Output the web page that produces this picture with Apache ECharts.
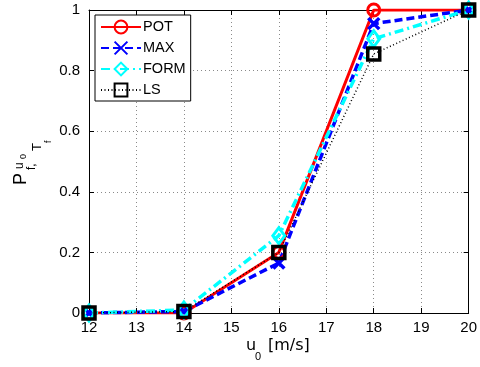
<!DOCTYPE html>
<html>
<head>
<meta charset="utf-8">
<script src="https://cdn.jsdelivr.net/npm/echarts@6/dist/echarts.min.js"></script>
<style>
  html, body { margin: 0; padding: 0; background: #fff; }
  #chart { width: 480px; height: 367px; }
</style>
</head>
<body>
<div id="chart"></div>
<script>
// wind speed u0 [m/s]
const uValues = [12, 14, 16, 18, 20];
const potValues = [0, 0, 0.2, 1, 1];
const maxValues = [0, 0.005, 0.165, 0.955, 1];
const formValues = [0, 0.01, 0.255, 0.905, 1];
const lsValues = [0, 0.005, 0.2, 0.855, 1];
const xTicks = [12, 13, 14, 15, 16, 17, 18, 19, 20];
const yTicks = [0, 0.2, 0.4, 0.6, 0.8, 1];

const FONT = '"Liberation Sans", Arial, sans-serif';
const FONT2 = '"DejaVu Sans", sans-serif';
const toPairs = (ys) => uValues.map((u, i) => [u, ys[i]]);
const xPath = 'path://M0,0L10,10M10,0L0,10';

const chart = echarts.init(document.getElementById('chart'));

const gridLine = { show: true, lineStyle: { color: '#8a8a8a', type: [1, 3], width: 1 } };
const boxLine = { show: true, onZero: false, lineStyle: { color: '#000', width: 1 } };
const inTick = { show: true, inside: true, length: 5, lineStyle: { color: '#000' } };

const option = {
  animation: false,
  grid: { left: 89, right: 10, top: 10, bottom: 54 },
  xAxis: [
    {
      type: 'value', min: 12, max: 20, interval: 1,
      axisLine: boxLine, axisTick: inTick, splitLine: gridLine,
      axisLabel: {
        color: '#000', fontFamily: FONT, fontSize: 15, margin: 7,
        formatter: (v) => (xTicks.includes(v) ? String(v) : '')
      }
    },
    {
      type: 'value', position: 'top', min: 12, max: 20, interval: 1,
      axisLine: boxLine, axisTick: inTick, splitLine: { show: false },
      axisLabel: { show: false }
    }
  ],
  yAxis: [
    {
      type: 'value', min: 0, max: 1, interval: 0.2,
      axisLine: boxLine, axisTick: inTick, splitLine: gridLine,
      axisLabel: {
        color: '#000', fontFamily: FONT, fontSize: 15, margin: 9,
        formatter: (v) => {
          const t = yTicks.find((y) => Math.abs(y - v) < 1e-6);
          return t === undefined ? '' : String(t);
        }
      }
    },
    {
      type: 'value', position: 'right', min: 0, max: 1, interval: 0.2,
      axisLine: boxLine, axisTick: inTick, splitLine: { show: false },
      axisLabel: { show: false }
    }
  ],
  legend: {
    orient: 'vertical',
    left: 95, top: 15,
    itemWidth: 40, itemHeight: 16, itemGap: 5,
    padding: [4, 5, 3, 5],
    borderColor: '#000', borderWidth: 1,
    backgroundColor: '#fff',
    textStyle: { color: '#000', fontFamily: FONT, fontSize: 14.5, lineHeight: 16, padding: [0, 0, 0, -3] },
    data: ['POT', 'MAX', 'FORM', 'LS']
  },
  series: [
    {
      name: 'POT', type: 'line', data: toPairs(potValues),
      symbol: 'circle', symbolSize: 12,
      lineStyle: { color: '#ff0000', width: 3, type: 'solid' },
      itemStyle: { color: 'rgba(0,0,0,0)', borderColor: '#ff0000', borderWidth: 3 }
    },
    {
      name: 'MAX', type: 'line', data: toPairs(maxValues),
      symbol: xPath, symbolSize: 11,
      lineStyle: { color: '#0000ff', width: 3.5, type: [8, 4] },
      itemStyle: { color: 'rgba(0,0,0,0)', borderColor: '#0000ff', borderWidth: 3.5 }
    },
    {
      name: 'FORM', type: 'line', data: toPairs(formValues),
      symbol: 'diamond', symbolSize: [12, 16],
      lineStyle: { color: '#00ffff', width: 3.5, type: [9, 4, 2, 4] },
      itemStyle: { color: 'rgba(0,0,0,0)', borderColor: '#00ffff', borderWidth: 3 }
    },
    {
      name: 'LS', type: 'line', data: toPairs(lsValues),
      symbol: 'rect', symbolSize: 12,
      lineStyle: { color: '#000000', width: 1.5, type: [1, 2.5] },
      itemStyle: { color: 'rgba(0,0,0,0)', borderColor: '#000000', borderWidth: 3.5 }
    }
  ],
  graphic: [
    {
      // y-axis title P^{u_0}_{f,T_f}, rotated
      type: 'group', x: 28, y: 185, rotation: Math.PI / 2,
      children: [
        { type: 'text', x: 0, y: -6.5, style: { text: 'P', font: '18px ' + FONT, fill: '#000', align: 'left', verticalAlign: 'middle' } },
        { type: 'text', x: 16, y: -8, style: { text: 'u', font: '12px ' + FONT, fill: '#000', align: 'left', verticalAlign: 'middle' } },
        { type: 'text', x: 26, y: -4.5, style: { text: '0', font: '9px ' + FONT, fill: '#000', align: 'left', verticalAlign: 'middle' } },
        { type: 'text', x: 15, y: 4, style: { text: 'f,', font: '12px ' + FONT, fill: '#000', align: 'left', verticalAlign: 'middle' } },
        { type: 'text', x: 34, y: 9.5, style: { text: 'T', font: '13px ' + FONT, fill: '#000', align: 'left', verticalAlign: 'middle' } },
        { type: 'text', x: 42, y: 21, style: { text: 'f', font: '9px ' + FONT, fill: '#000', align: 'left', verticalAlign: 'middle' } }
      ]
    },
    {
      // x-axis title u_0 [m/s]
      type: 'group', x: 246, y: 346,
      children: [
        { type: 'text', x: 0, y: 0, style: { text: 'u', font: '16px ' + FONT2, fill: '#000', align: 'left', verticalAlign: 'middle' } },
        { type: 'text', x: 9, y: 11, style: { text: '0', font: '11px ' + FONT, fill: '#000', align: 'left', verticalAlign: 'middle' } },
        { type: 'text', x: 22, y: 0, style: { text: '[m/s]', font: '16px ' + FONT2, fill: '#000', align: 'left', verticalAlign: 'middle' } }
      ]
    }
  ]
};

chart.setOption(option);
</script>
</body>
</html>
